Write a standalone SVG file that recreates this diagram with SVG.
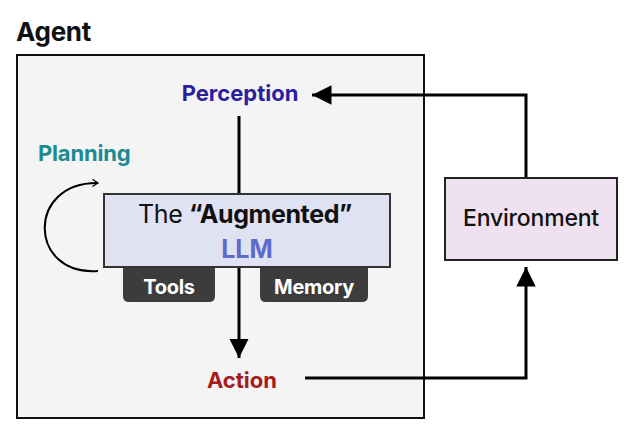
<svg xmlns="http://www.w3.org/2000/svg" width="626" height="428" viewBox="0 0 626 428">
<defs>
<style>
text{font-family:Inter,"Liberation Sans",sans-serif;}
.b{font-weight:700;}
.line{fill:none;stroke:#000;stroke-width:3;}
.tab{fill:#3c3c3c;}
.tabt{fill:#fff;font-size:20px;font-weight:700;text-anchor:middle;letter-spacing:-0.3px;}
</style>
<marker id="ah" viewBox="0 0 10 10" refX="10" refY="5" markerWidth="6.5" markerHeight="6.5" markerUnits="strokeWidth" orient="auto">
<path d="M0,0 L10,5 L0,10 z" fill="#000"/>
</marker>
<marker id="chev" viewBox="0 0 10 10" refX="8" refY="5" markerWidth="8" markerHeight="8" markerUnits="userSpaceOnUse" orient="auto">
<path d="M1,0.5 L8,5 L1,9.5" fill="none" stroke="#000" stroke-width="1.5"/>
</marker>
</defs>
<rect width="626" height="428" fill="#fff"/>
<g id="agent">
<text x="16" y="41" class="b" font-size="26" fill="#111" letter-spacing="-0.3">Agent</text>
<rect x="17" y="55" width="407" height="363" fill="#f4f4f4" stroke="#111" stroke-width="2"/>
</g>
<g id="connectors">
<line class="line" x1="239" y1="116" x2="239" y2="193"/>
<line class="line" x1="239" y1="267" x2="239" y2="358" marker-end="url(#ah)"/>
<polyline class="line" points="305,378 526,378 526,267" marker-end="url(#ah)"/>
<polyline class="line" points="526,177 526,95 312,95" marker-end="url(#ah)"/>
<path d="M98,271 C28,276 26,182 98,183" fill="none" stroke="#000" stroke-width="2" marker-end="url(#chev)"/>
</g>
<g id="perception">
<text x="240" y="101" class="b" font-size="22" fill="#2b1f9f" text-anchor="middle">Perception</text>
</g>
<g id="planning">
<text x="38" y="161" class="b" font-size="22" fill="#1c8a90" letter-spacing="-0.2">Planning</text>
</g>
<g id="llm">
<path class="tab" d="M123,266 H215 V296 Q215,302 209,302 H129 Q123,302 123,296 Z"/>
<path class="tab" d="M260,266 H368 V296 Q368,302 362,302 H266 Q260,302 260,296 Z"/>
<text x="169" y="294" class="tabt">Tools</text>
<text x="314" y="294" class="tabt">Memory</text>
<rect x="104" y="194" width="286" height="73" fill="#dfe2f3" stroke="#333" stroke-width="2"/>
<text x="245" y="223" font-size="25" fill="#111" text-anchor="middle" letter-spacing="-0.4">The <tspan class="b">“Augmented”</tspan></text>
<text x="247" y="258" class="b" font-size="25" fill="#5b6acb" text-anchor="middle">LLM</text>
</g>
<g id="action">
<text x="242" y="388" class="b" font-size="22" fill="#a61c1c" text-anchor="middle">Action</text>
</g>
<g id="environment">
<rect x="445" y="178" width="172" height="82" fill="#efe1f0" stroke="#222" stroke-width="2"/>
<text x="531" y="226" font-size="23" font-weight="500" fill="#111" text-anchor="middle" letter-spacing="-0.2">Environment</text>
</g>
</svg>
